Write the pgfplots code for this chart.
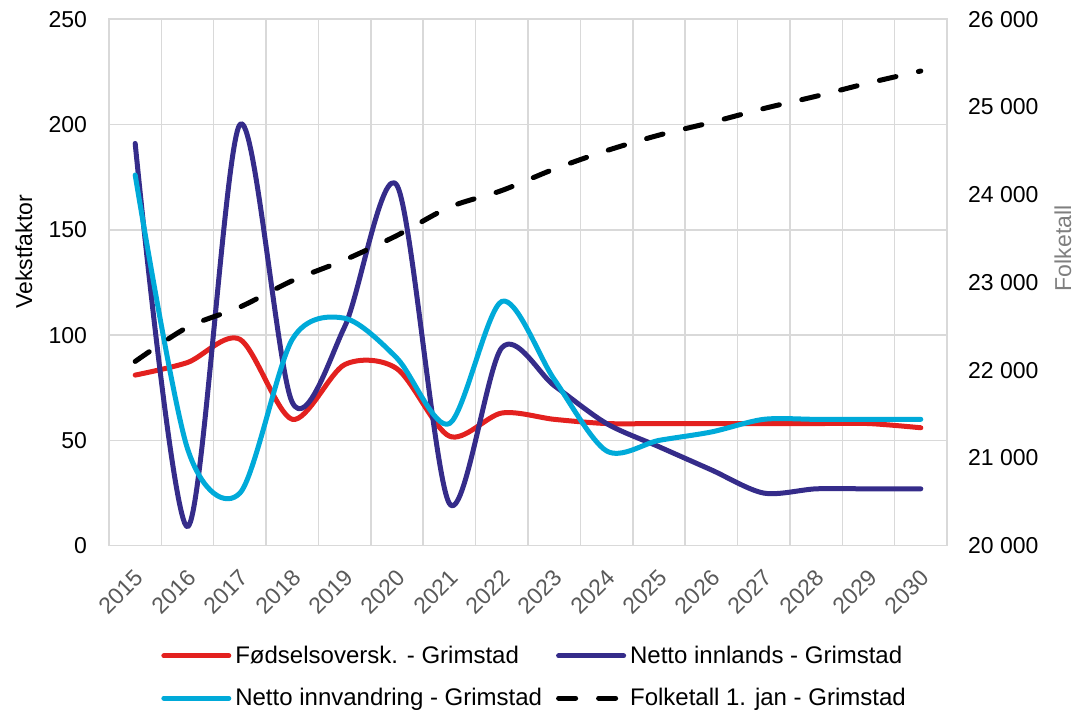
\documentclass[border=0pt]{standalone}
\usepackage{pgfplots}
\pgfplotsset{compat=1.18}
\usepackage{fontspec}
\setmainfont{Liberation Sans}
\definecolor{cRed}{HTML}{E3211F}
\definecolor{cBlue}{HTML}{352C8A}
\definecolor{cCyan}{HTML}{00AAD9}
\definecolor{gridc}{HTML}{D9D9D9}
\definecolor{txtgray}{HTML}{595959}
\definecolor{lblgray}{HTML}{7F7F7F}

\begin{document}
\begin{tikzpicture}[font=\fontsize{11.5}{13.8}\selectfont]
\useasboundingbox (-54.5pt,-83.15pt) rectangle (486.5pt,272.85pt);
\pgfplotsset{
  myaxis/.style={
    scale only axis, width=419pt, height=263.25pt,
    xmin=-0.5, xmax=15.5,
    major tick length=0pt, minor tick length=0pt,
    tick style={draw=none},
    scaled y ticks=false,
  },
  legend image code/.code={\draw[#1] (0pt,0pt) -- (32.5pt,0pt);},
}
\begin{axis}[myaxis,
  ymin=0, ymax=250,
  xtick={0,...,15},
  xticklabels={2015,2016,2017,2018,2019,2020,2021,2022,2023,2024,2025,2026,2027,2028,2029,2030},
  minor xtick={-0.5,0.5,...,15.5},
  xminorgrids, ymajorgrids,
  grid style={gridc, line width=0.75pt},
  minor grid style={gridc, line width=0.75pt},
  axis line style={gridc, line width=0.75pt},
  ytick={0,50,100,150,200,250},
  yticklabels={0,50,100,150,200,250},
  yticklabel style={xshift=-7.5pt, black},
  xticklabel style={rotate=45, anchor=east, txtgray, yshift=-11.5pt, xshift=-5pt},
  ylabel={Vekstfaktor},
  ylabel style={at={(axis description cs:-0.1014,0.558)}, anchor=center},
]
\addplot[cRed, line width=2.5pt, smooth, tension=0.5, line cap=round, line join=round] coordinates {
(0,81) (1,87) (2,98) (3,60) (4,86) (5,84) (6,52) (7,63) (8,60) (9,58) (10,58) (11,58) (12,58) (13,58) (14,58) (15,56)};
\addplot[cBlue, line width=2.5pt, smooth, tension=0.5, line cap=round, line join=round] coordinates {
(0,191) (1,9) (2,200) (3,68) (4,104) (5,171) (6,20) (7,94) (8,76) (9,58) (10,47) (11,36) (12,25) (13,27) (14,27) (15,27)};
\addplot[cCyan, line width=2.5pt, smooth, tension=0.5, line cap=round, line join=round] coordinates {
(0,176) (1,46) (2,25) (3,98) (4,108) (5,89) (6,58) (7,116) (8,79) (9,45) (10,50) (11,54) (12,60) (13,60) (14,60) (15,60)};
\end{axis}
\begin{axis}[myaxis,
  ymin=20000, ymax=26000,
  axis x line=none, axis y line=right,
  y axis line style={gridc, line width=0.75pt, -},
  ytick={20000,21000,22000,23000,24000,25000,26000},
  yticklabels={20 000,21 000,22 000,23 000,24 000,25 000,26 000},
  yticklabel style={xshift=7pt, black},
  ylabel={Folketall},
  ylabel style={at={(axis description cs:1.1384,0.565)}, anchor=center, rotate=0, lblgray},
  legend columns=2,
  legend style={at={(axis description cs:0.509,-0.2494)}, anchor=center, draw=none, fill=none,
    /tikz/every even column/.append style={column sep=5pt}, row sep=7pt,
    font=\fontsize{12}{14.4}\selectfont},
  legend cell align=left,
]
\addlegendimage{cRed, line width=2.5pt, line cap=round}
\addlegendentry{Fødselsoversk. - Grimstad}
\addlegendimage{cBlue, line width=2.5pt, line cap=round}
\addlegendentry{Netto innlands - Grimstad}
\addlegendimage{cCyan, line width=2.5pt, line cap=round}
\addlegendentry{Netto innvandring - Grimstad}
\addplot[black, line width=2.5pt, smooth, tension=0.5, line cap=round, dash pattern=on 8.5pt off 11.5pt] coordinates {
(0,22100) (1,22490) (2,22720) (3,23020) (4,23257) (5,23536) (6,23858) (7,24048) (8,24292) (9,24502) (10,24679) (11,24824) (12,24982) (13,25122) (14,25273) (15,25410)};
\addlegendentry{Folketall 1. jan - Grimstad}
\end{axis}
\end{tikzpicture}
\end{document}
